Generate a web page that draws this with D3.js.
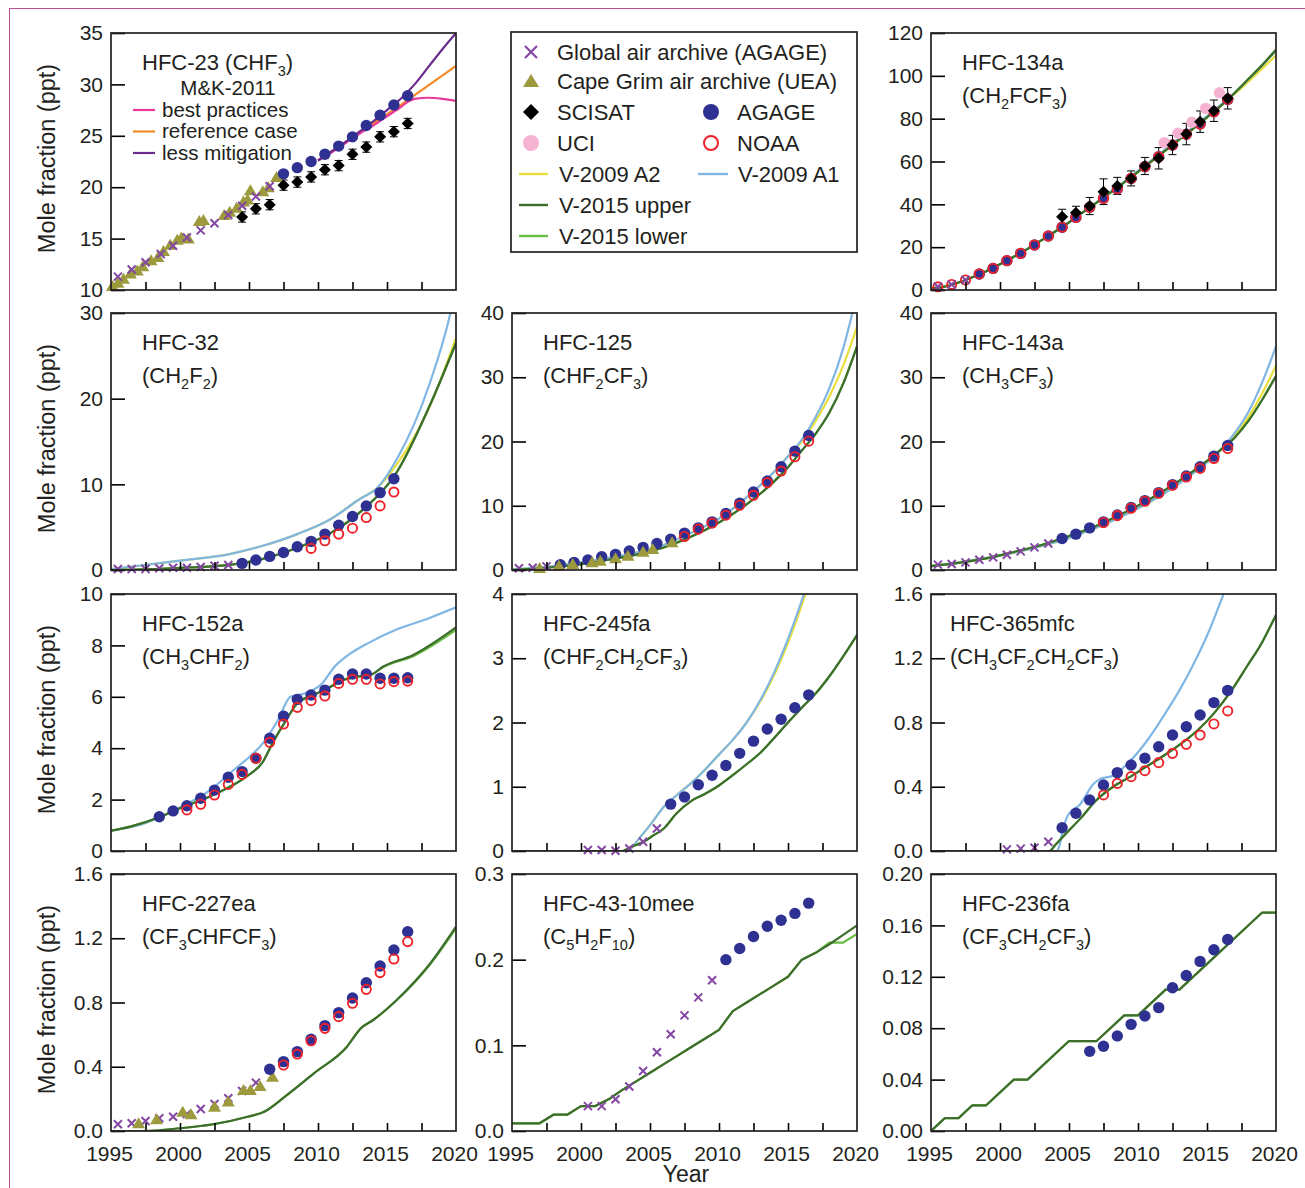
<!DOCTYPE html>
<html><head><meta charset="utf-8">
<script src="https://cdn.jsdelivr.net/npm/d3@7"></script>
<style>
body{margin:0;background:#fff}
svg{display:block}
text{font-family:"Liberation Sans",Arial,sans-serif;fill:#231f20}
</style>
</head><body>
<svg id="c" width="1305" height="1188"></svg>
<script>
// ---------------- DATA ----------------
const xTickLabels = [1995, 2000, 2005, 2010, 2015, 2020];
const xMinorTicks = [1997.5, 2000, 2002.5, 2005, 2007.5, 2010, 2012.5, 2015, 2017.5];

// HFC-23
const hfc23Archive = [[1995.5,11.3],[1996.5,12.0],[1997.5,12.7],[1998.6,13.5],[1999.5,14.3],[2000.5,15.1],[2001.5,15.8],[2002.5,16.5],[2003.5,17.3],[2004.5,18.2],[2005.5,19.1],[2006.5,20.1]];
const hfc23UEA = [[1995.1,10.4],[1995.5,10.7],[1995.9,11.1],[1996.4,11.6],[1996.9,11.9],[1997.3,12.3],[1997.9,12.9],[1998.4,13.2],[1998.8,13.8],[1999.3,14.4],[1999.8,14.9],[2000.1,15.1],[2000.6,15.0],[2001.4,16.7],[2001.7,16.8],[2003.2,17.3],[2003.6,17.6],[2004.1,18.0],[2004.6,18.6],[2004.9,18.8],[2005.1,19.7],[2006.0,19.6],[2006.4,20.0],[2007.0,21.0]];
const hfc23SCISAT = [[2004.5,17.1,0.5],[2005.5,17.9,0.5],[2006.5,18.3,0.5],[2007.5,20.2,0.5],[2008.5,20.5,0.5],[2009.5,21.0,0.5],[2010.5,21.7,0.5],[2011.5,22.1,0.5],[2012.5,23.2,0.5],[2013.5,23.9,0.5],[2014.5,24.9,0.5],[2015.5,25.4,0.5],[2016.5,26.2,0.5]];
const hfc23AGAGE = [[2007.5,21.3],[2008.5,21.9],[2009.5,22.5],[2010.5,23.2],[2011.5,24.0],[2012.5,24.9],[2013.5,26.0],[2014.5,27.0],[2015.5,28.0],[2016.5,28.9]];
const mkBest = [[2010,22.6],[2011,23.4],[2012,24.3],[2013,25.2],[2014,26.0],[2015,26.9],[2016,27.8],[2016.5,28.3],[2017,28.6],[2018,28.7],[2019,28.6],[2020,28.4]];
const mkRef = [[2010,22.6],[2012,24.4],[2014,26.2],[2016,28.0],[2018,29.9],[2020,31.8]];
const mkLess = [[2010,22.6],[2011,23.5],[2012,24.4],[2013,25.4],[2014,26.4],[2015,27.5],[2016,28.6],[2017,30.0],[2018,31.7],[2019,33.4],[2020,35.0]];

// HFC-134a
const hfc134aArchive = [[1995.5,1.5],[1996.5,2.6],[1997.5,4.7]];
const hfc134aAGAGE = [[1998.5,7.5],[1999.5,10.1],[2000.5,13.7],[2001.5,17.1],[2002.5,21.0],[2003.5,25.2],[2004.5,29.3],[2005.5,33.9],[2006.5,38.6],[2007.5,42.8],[2008.5,47.2],[2009.5,52.1],[2010.5,57.6],[2011.5,62.2],[2012.5,67.7],[2013.5,72.7],[2014.5,77.5],[2015.5,83.2],[2016.5,89.0]];
const hfc134aNOAA = [[1995.5,1.5],[1996.5,2.6],[1997.5,4.7],[1998.5,7.5],[1999.5,10.1],[2000.5,13.7],[2001.5,17.1],[2002.5,21.0],[2003.5,25.2],[2004.5,29.3],[2005.5,33.9],[2006.5,38.6],[2007.5,42.8],[2008.5,47.2],[2009.5,52.1],[2010.5,57.6],[2011.5,62.2],[2012.5,67.7],[2013.5,72.7],[2014.5,77.5],[2015.5,83.2],[2016.5,89.0]];
const hfc134aSCISAT = [[2004.5,34.2,3.5],[2005.5,36.1,3],[2006.5,39.2,4],[2007.5,45.9,6],[2008.5,48.6,4],[2009.5,52.1,3.5],[2010.5,57.9,4],[2011.5,61.5,5],[2012.5,67.7,4.5],[2013.5,72.8,5],[2014.5,78.6,5],[2015.5,83.7,5],[2016.5,89.5,5]];
const hfc134aUCI = [[2011.9,68.8],[2012.9,73.2],[2013.9,78.3],[2014.9,84.8],[2015.9,92.1]];
const hfc134aUpper = [[1995,0.8],[1996,1.6],[1997,3.5],[1998,6],[1999,8.8],[2000,12],[2001,15.5],[2002,19.2],[2003,23.2],[2004,27.3],[2005,31.6],[2006,36.2],[2007,40.8],[2008,45.5],[2009,50.2],[2010,55.2],[2011,60.2],[2012,65.2],[2013,70.3],[2014,75.4],[2015,80.6],[2016,86],[2017,92],[2018,98.5],[2019,105],[2020,112.2]];
const hfc134aA1 = [[1995,0.8],[1996,1.6],[1997,3.5],[1998,6],[1999,8.8],[2000,12],[2001,15.5],[2002,19.2],[2003,23.2],[2004,27.3],[2005,31.6],[2006,36.2],[2007,40.9],[2008,45.7],[2009,50.5],[2010,55.6],[2011,60.7],[2012,65.8],[2013,71],[2014,76.1],[2015,81.2],[2016,86.4],[2017,92],[2018,98.4],[2019,104.8],[2020,111.8]];
const hfc134aA2 = [[1995,0.8],[1996,1.6],[1997,3.5],[1998,6],[1999,8.8],[2000,12],[2001,15.5],[2002,19.2],[2003,23.2],[2004,27.3],[2005,31.6],[2006,36.2],[2007,40.8],[2008,45.5],[2009,50.2],[2010,55.2],[2011,60.2],[2012,65.2],[2013,70.3],[2014,75.4],[2015,80.6],[2016,86],[2017,91.5],[2018,97.3],[2019,103.3],[2020,109.6]];

// HFC-32
const hfc32Archive = [[1995.5,0.12],[1996.5,0.12],[1997.5,0.12],[1998.5,0.2],[1999.5,0.27],[2000.5,0.27],[2001.5,0.35],[2002.5,0.5],[2003.5,0.58]];
const hfc32AGAGE = [[2004.5,0.77],[2005.5,1.16],[2006.5,1.59],[2007.5,2.05],[2008.5,2.71],[2009.5,3.34],[2010.5,4.19],[2011.5,5.23],[2012.5,6.24],[2013.5,7.48],[2014.5,9.03],[2015.5,10.66]];
const hfc32NOAA = [[2009.5,2.52],[2010.5,3.41],[2011.5,4.19],[2012.5,4.88],[2013.5,6.12],[2014.5,7.48],[2015.5,9.1]];
const hfc32A1 = [[1995,0.1],[1997,0.5],[2000,1.1],[2003.6,1.86],[2006,2.83],[2008.5,4.19],[2010.9,5.93],[2013,8.26],[2014.3,9.6],[2015.7,12.9],[2018.1,21.8],[2019.6,30],[2020,33]];
const hfc32A2 = [[1995,0.1],[1997,0.5],[2000,1.1],[2003.6,1.86],[2006,2.83],[2008.5,4.19],[2010.9,5.93],[2013,8.26],[2014.3,9.6],[2015.7,12.3],[2018.1,19.1],[2020,27.1]];
const hfc32Upper = [[1995,0],[1998,0.1],[2000,0.25],[2002,0.4],[2003.6,0.6],[2006,1.3],[2008.5,2.6],[2010.9,4.3],[2013.3,7.1],[2015.7,11.4],[2018.1,19.2],[2020,26.5]];

// HFC-125
const hfc125Archive = [[1995.5,0.26],[1996.5,0.36],[1997.5,0.57]];
const hfc125UEA = [[1997.0,0.3],[1998.4,0.67],[1999.4,0.93],[2000.8,1.19],[2001.4,1.45],[2002.5,1.81],[2003.4,2.2],[2004.5,2.84],[2005.2,3.26],[2006.6,4.3]];
const hfc125AGAGE = [[1998.5,0.83],[1999.5,1.19],[2000.5,1.55],[2001.5,2.07],[2002.5,2.43],[2003.5,2.95],[2004.5,3.52],[2005.5,4.13],[2006.5,4.81],[2007.5,5.74],[2008.5,6.56],[2009.5,7.49],[2010.5,8.79],[2011.5,10.39],[2012.5,12.14],[2013.5,13.85],[2014.5,16.07],[2015.5,18.5],[2016.5,20.93]];
const hfc125NOAA = [[2007.5,5.22],[2008.5,6.36],[2009.5,7.29],[2010.5,8.53],[2011.5,10.08],[2012.5,11.63],[2013.5,13.6],[2014.5,15.4],[2015.5,17.63],[2016.5,20.05]];
const hfc125A1 = [[1995,0.1],[1998,0.6],[2000,1.2],[2002,1.9],[2004,2.7],[2006,3.9],[2008,5.8],[2010,8.0],[2012,11.3],[2014,15.3],[2015,17.7],[2016,20.3],[2017,23.8],[2018,28.3],[2019,34.5],[2020,43]];
const hfc125A2 = [[1995,0.1],[1998,0.6],[2000,1.2],[2002,1.9],[2004,2.7],[2006,3.9],[2008,5.8],[2010,8.0],[2012,11.3],[2014,15.3],[2015,17.7],[2016,20.0],[2017,23.2],[2018,27.0],[2019,31.8],[2020,37.9]];
const hfc125Upper = [[1995,0],[2000,0.9],[2002,1.6],[2004,2.4],[2006,3.5],[2008,5.2],[2010,7.4],[2012,10.2],[2014,13.8],[2015,16.0],[2016,18.6],[2017,21.2],[2018,24.5],[2019,29.0],[2020,34.8]];

// HFC-143a
const hfc143aArchive = [[1995.5,0.83],[1996.5,0.93],[1997.5,1.19],[1998.5,1.6],[1999.5,1.96],[2000.5,2.38],[2001.5,2.9],[2002.5,3.52],[2003.5,4.13]];
const hfc143aAGAGE = [[2004.5,4.91],[2005.5,5.58],[2006.5,6.56],[2007.5,7.49],[2008.5,8.57],[2009.5,9.72],[2010.5,10.8],[2011.5,12.04],[2012.5,13.29],[2013.5,14.62],[2014.5,16.07],[2015.5,17.72],[2016.5,19.38]];
const hfc143aNOAA = [[2007.5,7.39],[2008.5,8.47],[2009.5,9.61],[2010.5,10.7],[2011.5,11.94],[2012.5,13.18],[2013.5,14.47],[2014.5,15.81],[2015.5,17.36],[2016.5,18.91]];
const hfc143aUpper = [[1995,0.6],[1997,1.1],[1999,1.8],[2001,2.8],[2003,3.9],[2005,5.3],[2007,6.9],[2009,8.9],[2011,11.2],[2013,13.9],[2015,17.0],[2016,18.7],[2017,20.6],[2018,23.2],[2019,26.5],[2020,30.2]];
const hfc143aA1 = [[1995,0.6],[2001,2.7],[2005,5.0],[2009,8.5],[2013,13.5],[2015,16.8],[2016,18.8],[2017,21.3],[2018,24.6],[2019,29.2],[2020,34.8]];
const hfc143aA2 = [[1995,0.6],[2001,2.7],[2005,5.0],[2009,8.5],[2013,13.5],[2015,16.8],[2016,18.8],[2017,21.0],[2018,23.8],[2019,27.5],[2020,31.8]];

// HFC-152a
const hfc152aAGAGE = [[1998.5,1.33],[1999.5,1.56],[2000.5,1.76],[2001.5,2.05],[2002.5,2.37],[2003.5,2.87],[2004.5,3.09],[2005.5,3.61],[2006.5,4.39],[2007.5,5.25],[2008.5,5.9],[2009.5,6.07],[2010.5,6.26],[2011.5,6.68],[2012.5,6.89],[2013.5,6.89],[2014.5,6.72],[2015.5,6.72],[2016.5,6.74]];
const hfc152aNOAA = [[2000.5,1.6],[2001.5,1.82],[2002.5,2.18],[2003.5,2.59],[2004.5,2.98],[2005.5,3.61],[2006.5,4.23],[2007.5,4.94],[2008.5,5.59],[2009.5,5.85],[2010.5,6.03],[2011.5,6.52],[2012.5,6.68],[2013.5,6.68],[2014.5,6.5],[2015.5,6.59],[2016.5,6.61]];
const hfc152aUpper = [[1995,0.79],[1996.4,0.95],[1998.6,1.33],[2000,1.66],[2002.4,2.18],[2004.8,2.89],[2006,3.47],[2006.7,4.19],[2007.7,5.1],[2008.5,5.75],[2009.7,6.07],[2010.9,6.39],[2011.8,6.65],[2012.8,6.78],[2013.8,6.85],[2014.7,7.17],[2016.9,7.63],[2020,8.7]];
const hfc152aLower = [[1995,0.79],[1996.4,0.95],[1998.6,1.33],[2000,1.66],[2002.4,2.18],[2004.8,2.89],[2006,3.47],[2006.7,4.19],[2007.7,5.1],[2008.5,5.75],[2009.7,6.07],[2010.9,6.39],[2011.8,6.65],[2012.8,6.78],[2013.8,6.85],[2014.7,7.15],[2016.9,7.58],[2020,8.6]];
const hfc152aA1 = [[1995,0.79],[1997,1.0],[2000,1.7],[2002,2.3],[2004,3.2],[2005,3.65],[2006,4.19],[2007.1,5.1],[2008,6.0],[2009.1,6.14],[2010.3,6.52],[2011.2,7.17],[2012.2,7.63],[2013.6,8.08],[2015.6,8.6],[2018,9.05],[2020,9.48]];

// HFC-245fa
const hfc245faArchive = [[2000.5,0.016],[2001.5,0.016],[2002.5,0.005],[2003.5,0.04],[2004.5,0.145],[2005.5,0.35]];
const hfc245faAGAGE = [[2006.5,0.73],[2007.5,0.84],[2008.5,1.03],[2009.5,1.18],[2010.5,1.33],[2011.5,1.52],[2012.5,1.71],[2013.5,1.9],[2014.5,2.05],[2015.5,2.23],[2016.5,2.43]];
const hfc245faUpper = [[1995,0],[2003,0],[2003.5,0.05],[2004.5,0.14],[2005.3,0.25],[2006,0.35],[2006.9,0.58],[2008,0.78],[2009,0.89],[2010,1.02],[2011,1.18],[2012,1.35],[2013,1.53],[2014,1.76],[2015,2.0],[2016,2.23],[2017,2.45],[2018,2.72],[2019,3.03],[2020,3.36]];
const hfc245faA1 = [[1995,0],[2003.3,0],[2004.3,0.22],[2005.1,0.43],[2006,0.69],[2007,0.88],[2008,1.06],[2009,1.27],[2010,1.5],[2011,1.73],[2012,2.0],[2013,2.35],[2014,2.78],[2015,3.3],[2016,3.9],[2017,4.6]];
const hfc245faA2 = [[1995,0],[2003.3,0],[2004.3,0.22],[2005.1,0.43],[2006,0.69],[2007,0.88],[2008,1.06],[2009,1.27],[2010,1.5],[2011,1.73],[2012,2.0],[2013,2.33],[2014,2.74],[2015,3.24],[2016,3.83],[2017,4.5]];

// HFC-365mfc
const hfc365Archive = [[2000.5,0.01],[2001.5,0.015],[2002.5,0.02],[2003.5,0.058]];
const hfc365AGAGE = [[2004.5,0.145],[2005.5,0.235],[2006.5,0.318],[2007.5,0.411],[2008.5,0.488],[2009.5,0.535],[2010.5,0.577],[2011.5,0.649],[2012.5,0.722],[2013.5,0.774],[2014.5,0.847],[2015.5,0.924],[2016.5,1.0]];
const hfc365NOAA = [[2007.5,0.349],[2008.5,0.421],[2009.5,0.463],[2010.5,0.5],[2011.5,0.55],[2012.5,0.608],[2013.5,0.664],[2014.5,0.722],[2015.5,0.791],[2016.5,0.872]];
const hfc365Upper = [[1995,0],[2003.6,0],[2004,0.037],[2004.8,0.11],[2005.8,0.2],[2007,0.318],[2008.2,0.4],[2009.4,0.46],[2010.6,0.525],[2011.8,0.59],[2013,0.66],[2014.3,0.75],[2015.5,0.857],[2016.7,0.99],[2017.9,1.15],[2019,1.3],[2020,1.47]];
const hfc365A1 = [[1995,0],[2004.1,0],[2004.3,0.03],[2004.5,0.11],[2004.9,0.22],[2005.8,0.29],[2006.8,0.42],[2007.2,0.446],[2008.2,0.47],[2009.2,0.54],[2010.6,0.68],[2012,0.86],[2013,1.0],[2014,1.16],[2015,1.34],[2016.2,1.6],[2017,1.78]];

// HFC-227ea
const hfc227Archive = [[1995.5,0.042],[1996.5,0.048],[1997.5,0.062],[1998.5,0.079],[1999.5,0.089],[2000.5,0.106],[2001.5,0.137],[2002.5,0.168],[2003.5,0.204],[2004.5,0.249],[2005.5,0.301]];
const hfc227UEA = [[1997.0,0.048],[1998.3,0.073],[2000.2,0.12],[2000.8,0.104],[2002.5,0.151],[2003.5,0.183],[2004.6,0.255],[2005.1,0.255],[2005.8,0.28],[2006.7,0.338]];
const hfc227AGAGE = [[2006.5,0.384],[2007.5,0.432],[2008.5,0.494],[2009.5,0.571],[2010.5,0.656],[2011.5,0.737],[2012.5,0.828],[2013.5,0.923],[2014.5,1.027],[2015.5,1.127],[2016.5,1.241]];
const hfc227NOAA = [[2007.5,0.411],[2008.5,0.479],[2009.5,0.562],[2010.5,0.639],[2011.5,0.712],[2012.5,0.795],[2013.5,0.882],[2014.5,0.986],[2015.5,1.071],[2016.5,1.179]];
const hfc227Upper = [[1995,0],[1997.5,0],[2000,0.017],[2002.4,0.042],[2004.9,0.089],[2006.1,0.12],[2007.6,0.214],[2009.7,0.359],[2012.1,0.525],[2013.1,0.639],[2014,0.691],[2015.7,0.816],[2018.1,1.04],[2020,1.272]];
const hfc227Lower = [[1995,0],[1997.5,0],[2000,0.017],[2002.4,0.042],[2004.9,0.089],[2006.1,0.12],[2007.6,0.214],[2009.7,0.359],[2012.1,0.525],[2013.1,0.639],[2014,0.691],[2015.7,0.814],[2018.1,1.035],[2020,1.262]];

// HFC-43-10mee
const hfc4310Archive = [[2000.5,0.029],[2001.5,0.029],[2002.5,0.037],[2003.5,0.052],[2004.5,0.070],[2005.5,0.092],[2006.5,0.113],[2007.5,0.135],[2008.5,0.156],[2009.5,0.176]];
const hfc4310AGAGE = [[2010.5,0.2],[2011.5,0.213],[2012.5,0.227],[2013.5,0.239],[2014.5,0.246],[2015.5,0.254],[2016.5,0.266]];
const hfc4310Upper = [[1995,0.009],[1997,0.009],[1998,0.019],[1999,0.019],[2000,0.029],[2001,0.029],[2002,0.037],[2003,0.048],[2004,0.058],[2005,0.068],[2006,0.078],[2007,0.088],[2008,0.098],[2009,0.108],[2010,0.118],[2011,0.14],[2012,0.15],[2013,0.16],[2014,0.17],[2015,0.18],[2016,0.2],[2017,0.208],[2018,0.218],[2019,0.229],[2020,0.24]];
const hfc4310Lower = [[1995,0.009],[1997,0.009],[1998,0.019],[1999,0.019],[2000,0.029],[2001,0.029],[2002,0.037],[2003,0.048],[2004,0.058],[2005,0.068],[2006,0.078],[2007,0.088],[2008,0.098],[2009,0.108],[2010,0.118],[2011,0.14],[2012,0.15],[2013,0.16],[2014,0.17],[2015,0.18],[2016,0.2],[2017,0.208],[2018,0.22],[2019,0.22],[2020,0.23]];

// HFC-236fa
const hfc236AGAGE = [[2006.5,0.062],[2007.5,0.066],[2008.5,0.074],[2009.5,0.083],[2010.5,0.0895],[2011.5,0.096],[2012.5,0.1115],[2013.5,0.121],[2014.5,0.132],[2015.5,0.141],[2016.5,0.149]];
const hfc236Upper = [[1995,0],[1996,0.01],[1997,0.01],[1998,0.02],[1999,0.02],[2001,0.04],[2002,0.04],[2005,0.07],[2007,0.07],[2009,0.09],[2010,0.09],[2012,0.11],[2013,0.11],[2019,0.17],[2020,0.17]];

// ---------------- LAYOUT / STYLE ----------------
const colLeft = [111, 512, 931], rowTop = [33, 313, 594, 874], PW = 345, PH = 257;
const C = {cross:'#8447a3', tri:'#9c9a3c', dia:'#000000', agage:'#2e3192', uci:'#f5b3d1', noaa:'#ee2228',
  a2:'#e9de3c', a1:'#7fb6e4', up:'#3e6e2d', lo:'#6cbd45', best:'#e9399b', ref:'#f58a2a', less:'#6c2c8e'};
const FS = 21;
const svg = d3.select('#c');

// frame lines of the page
svg.append('line').attr('x1',9).attr('x2',1305).attr('y1',8.5).attr('y2',8.5).attr('stroke','#b5528f').attr('stroke-width',1);
svg.append('line').attr('x1',9.5).attr('x2',9.5).attr('y1',8).attr('y2',1188).attr('stroke','#b5528f').attr('stroke-width',1);

function richText(sel, str, fs) {
  const re = /_(\{[^}]*\}|.)/g;
  let last = 0, m, inSub = false;
  const segs = [];
  while ((m = re.exec(str)) !== null) {
    if (m.index > last) segs.push({t: str.slice(last, m.index), sub: false});
    let s = m[1]; if (s[0] === '{') s = s.slice(1, -1);
    segs.push({t: s, sub: true});
    last = re.lastIndex;
  }
  if (last < str.length) segs.push({t: str.slice(last), sub: false});
  const sh = Math.round(fs * 0.26);
  segs.forEach(sg => {
    const ts = sel.append('tspan').text(sg.t);
    if (sg.sub && !inSub) { ts.attr('dy', sh).attr('font-size', fs * 0.66); inSub = true; }
    else if (sg.sub) { ts.attr('font-size', fs * 0.66); }
    else if (!sg.sub && inSub) { ts.attr('dy', -sh); inSub = false; }
  });
}

const marker = {
  cross: (g, px, py) => g.append('path').attr('d', `M${px-4},${py-4}L${px+4},${py+4}M${px-4},${py+4}L${px+4},${py-4}`).attr('stroke', C.cross).attr('stroke-width', 2).attr('fill','none'),
  tri: (g, px, py) => g.append('path').attr('d', `M${px},${py-6}L${px+6.5},${py+5}L${px-6.5},${py+5}Z`).attr('fill', C.tri),
  dia: (g, px, py) => g.append('path').attr('d', `M${px},${py-6}L${px+6},${py}L${px},${py+6}L${px-6},${py}Z`).attr('fill', C.dia),
  agage: (g, px, py) => g.append('circle').attr('cx', px).attr('cy', py).attr('r', 5.7).attr('fill', C.agage),
  uci: (g, px, py) => g.append('circle').attr('cx', px).attr('cy', py).attr('r', 5.7).attr('fill', C.uci),
  noaa: (g, px, py) => g.append('circle').attr('cx', px).attr('cy', py).attr('r', 4.6).attr('fill', 'none').attr('stroke', C.noaa).attr('stroke-width', 1.9)
};

function panel(cfg, idx) {
  const x0 = colLeft[cfg.col], y0 = rowTop[cfg.row];
  const x = d3.scaleLinear().domain([1995, 2020]).range([x0, x0 + PW]);
  const y = d3.scaleLinear().domain(cfg.yDomain).range([y0 + PH, y0]);
  const g = svg.append('g');
  const cid = 'clip' + idx;
  svg.append('clipPath').attr('id', cid).append('rect').attr('x', x0).attr('y', y0).attr('width', PW).attr('height', PH);
  const lg = g.append('g').attr('clip-path', `url(#${cid})`);
  (cfg.lines || []).forEach(l => {
    lg.append('path').datum(l.data)
      .attr('d', d3.line().x(d => x(d[0])).y(d => y(d[1])).curve(l.linear ? d3.curveLinear : d3.curveMonotoneX))
      .attr('fill', 'none').attr('stroke', l.color).attr('stroke-width', 2.2).attr('stroke-linejoin','round');
  });
  if (cfg.err) {
    cfg.err.forEach(d => {
      const px = x(d[0]);
      lg.append('path').attr('d', `M${px},${y(d[1]-d[2])}V${y(d[1]+d[2])}M${px-4},${y(d[1]-d[2])}H${px+4}M${px-4},${y(d[1]+d[2])}H${px+4}`)
        .attr('stroke', '#000').attr('stroke-width', 1).attr('fill', 'none');
    });
  }
  const mg = g.append('g');
  (cfg.pts || []).forEach(p => {
    p.data.forEach(d => marker[p.type](mg, x(d[0]), y(d[1])));
  });
  g.append('g').attr('transform', `translate(0,${y0 + PH})`)
    .call(d3.axisBottom(x).tickValues(xMinorTicks).tickSize(-8).tickFormat(''))
    .call(a => { a.select('.domain').remove(); a.selectAll('line').attr('stroke', '#000').attr('stroke-width', 1.6); });
  const ya = g.append('g').attr('transform', `translate(${x0},0)`)
    .call(d3.axisLeft(y).tickValues(cfg.yTicks).tickSize(-14).tickPadding(8).tickFormat(d3.format(cfg.fmt)));
  ya.select('.domain').remove();
  ya.selectAll('line').attr('stroke', '#000').attr('stroke-width', 1.6);
  ya.selectAll('text').attr('font-size', FS).attr('font-family', '"Liberation Sans",Arial,sans-serif').attr('fill', '#231f20');
  if (cfg.row === 3) {
    const xa = g.append('g').attr('transform', `translate(0,${y0 + PH})`)
      .call(d3.axisBottom(x).tickValues(xTickLabels).tickSize(0).tickPadding(15).tickFormat(d3.format('d')));
    xa.select('.domain').remove();
    xa.selectAll('text').attr('font-size', FS).attr('font-family', '"Liberation Sans",Arial,sans-serif').attr('fill', '#231f20').attr('dx', -2);
  }
  g.append('rect').attr('x', x0).attr('y', y0).attr('width', PW).attr('height', PH)
    .attr('fill', 'none').attr('stroke', '#231f20').attr('stroke-width', 1.7);
  const tx = x0 + (cfg.tdx || 31);
  richText(g.append('text').attr('x', tx).attr('y', y0 + 37).attr('font-size', 22), cfg.title[0], 22);
  if (cfg.title[1]) richText(g.append('text').attr('x', tx).attr('y', y0 + 70).attr('font-size', 22), cfg.title[1], 22);
  if (cfg.col === 0) {
    g.append('text').attr('transform', `translate(55,${y0 + PH / 2 - 3}) rotate(-90)`)
      .attr('text-anchor', 'middle').attr('font-size', 23.5).text('Mole fraction (ppt)');
  }
}

const L = (data, color, linear) => ({data, color, linear});
const P = (type, data) => ({type, data});

const panels = [
  {col:0,row:0,yDomain:[10,35],yTicks:[10,15,20,25,30,35],fmt:'d',title:['HFC-23 (CHF_3)'],
   lines:[L(mkRef,C.ref),L(mkBest,C.best),L(mkLess,C.less)],
   err:hfc23SCISAT,
   pts:[P('tri',hfc23UEA),P('cross',hfc23Archive),P('dia',hfc23SCISAT),P('agage',hfc23AGAGE)]},
  {col:2,row:0,yDomain:[0,120],yTicks:[0,20,40,60,80,100,120],fmt:'d',title:['HFC-134a','(CH_2FCF_3)'],
   lines:[L(hfc134aA2,C.a2),L(hfc134aA1,C.a1),L(hfc134aUpper,C.lo),L(hfc134aUpper,C.up)],
   pts:[P('agage',hfc134aAGAGE),P('noaa',hfc134aNOAA),P('cross',hfc134aArchive),P('uci',hfc134aUCI),P('dia',hfc134aSCISAT)],
   err:hfc134aSCISAT},
  {col:0,row:1,yDomain:[0,30],yTicks:[0,10,20,30],fmt:'d',title:['HFC-32','(CH_2F_2)'],
   lines:[L(hfc32A2,C.a2),L(hfc32A1,C.a1),L(hfc32Upper,C.lo),L(hfc32Upper,C.up)],
   pts:[P('cross',hfc32Archive),P('agage',hfc32AGAGE),P('noaa',hfc32NOAA)]},
  {col:1,row:1,yDomain:[0,40],yTicks:[0,10,20,30,40],fmt:'d',title:['HFC-125','(CHF_2CF_3)'],
   lines:[L(hfc125A2,C.a2),L(hfc125A1,C.a1),L(hfc125Upper,C.lo),L(hfc125Upper,C.up)],
   pts:[P('cross',hfc125Archive),P('agage',hfc125AGAGE),P('tri',hfc125UEA),P('noaa',hfc125NOAA)]},
  {col:2,row:1,yDomain:[0,40],yTicks:[0,10,20,30,40],fmt:'d',title:['HFC-143a','(CH_3CF_3)'],
   lines:[L(hfc143aA2,C.a2),L(hfc143aA1,C.a1),L(hfc143aUpper,C.lo),L(hfc143aUpper,C.up)],
   pts:[P('cross',hfc143aArchive),P('agage',hfc143aAGAGE),P('noaa',hfc143aNOAA)]},
  {col:0,row:2,yDomain:[0,10],yTicks:[0,2,4,6,8,10],fmt:'d',title:['HFC-152a','(CH_3CHF_2)'],
   lines:[L(hfc152aA1,C.a1),L(hfc152aLower,C.lo),L(hfc152aUpper,C.up)],
   pts:[P('agage',hfc152aAGAGE),P('noaa',hfc152aNOAA)]},
  {col:1,row:2,yDomain:[0,4],yTicks:[0,1,2,3,4],fmt:'d',title:['HFC-245fa','(CHF_2CH_2CF_3)'],
   lines:[L(hfc245faA2,C.a2),L(hfc245faA1,C.a1),L(hfc245faUpper,C.lo),L(hfc245faUpper,C.up)],
   pts:[P('cross',hfc245faArchive),P('agage',hfc245faAGAGE)]},
  {col:2,row:2,yDomain:[0,1.6],yTicks:[0,0.4,0.8,1.2,1.6],fmt:'.1f',title:['HFC-365mfc','(CH_3CF_2CH_2CF_3)'],tdx:19,
   lines:[L(hfc365A1,C.a1),L(hfc365Upper,C.lo),L(hfc365Upper,C.up)],
   pts:[P('cross',hfc365Archive),P('agage',hfc365AGAGE),P('noaa',hfc365NOAA)]},
  {col:0,row:3,yDomain:[0,1.6],yTicks:[0,0.4,0.8,1.2,1.6],fmt:'.1f',title:['HFC-227ea','(CF_3CHFCF_3)'],
   lines:[L(hfc227Lower,C.lo),L(hfc227Upper,C.up)],
   pts:[P('cross',hfc227Archive),P('tri',hfc227UEA),P('agage',hfc227AGAGE),P('noaa',hfc227NOAA)]},
  {col:1,row:3,yDomain:[0,0.3],yTicks:[0,0.1,0.2,0.3],fmt:'.1f',title:['HFC-43-10mee','(C_5H_2F_{10})'],
   lines:[L(hfc4310Lower,C.lo,true),L(hfc4310Upper,C.up,true)],
   pts:[P('cross',hfc4310Archive),P('agage',hfc4310AGAGE)]},
  {col:2,row:3,yDomain:[0,0.2],yTicks:[0,0.04,0.08,0.12,0.16,0.2],fmt:'.2f',title:['HFC-236fa','(CF_3CH_2CF_3)'],
   lines:[L(hfc236Upper,C.lo,true),L(hfc236Upper,C.up,true)],
   pts:[P('agage',hfc236AGAGE)]}
];
panels.forEach((p, i) => panel(p, i));

// M&K-2011 legend inside HFC-23 panel
const mk = svg.append('g');
mk.append('text').attr('x', 228).attr('y', 95).attr('text-anchor', 'middle').attr('font-size', 20.5).text('M&K-2011');
[['best practices', C.best, 110], ['reference case', C.ref, 131.5], ['less mitigation', C.less, 153]].forEach(d => {
  mk.append('line').attr('x1', 133).attr('x2', 155).attr('y1', d[2]).attr('y2', d[2]).attr('stroke', d[1]).attr('stroke-width', 2.2);
  mk.append('text').attr('x', 162).attr('y', d[2] + 6.5).attr('font-size', 20.5).text(d[0]);
});

// Main legend
const lgd = svg.append('g');
lgd.append('rect').attr('x', 511).attr('y', 32).attr('width', 346).attr('height', 220).attr('fill', '#fff').attr('stroke', '#231f20').attr('stroke-width', 1.7);
const legendSym = [
  ['cross', 531, 52, 'Global air archive (AGAGE)', 557],
  ['tri', 531, 81, 'Cape Grim air archive (UEA)', 557],
  ['dia', 531, 112, 'SCISAT', 557],
  ['agage', 711, 112, 'AGAGE', 737],
  ['uci', 531, 143, 'UCI', 557],
  ['noaa', 711, 143, 'NOAA', 737]
];
legendSym.forEach(d => {
  if (d[0] === 'cross') lgd.append('path').attr('d', `M${d[1]-6},${d[2]-6}L${d[1]+6},${d[2]+6}M${d[1]-6},${d[2]+6}L${d[1]+6},${d[2]-6}`).attr('stroke', C.cross).attr('stroke-width', 2.2);
  else if (d[0] === 'tri') lgd.append('path').attr('d', `M${d[1]},${d[2]-7}L${d[1]+8},${d[2]+6}L${d[1]-8},${d[2]+6}Z`).attr('fill', C.tri);
  else if (d[0] === 'dia') lgd.append('path').attr('d', `M${d[1]},${d[2]-8}L${d[1]+8},${d[2]}L${d[1]},${d[2]+8}L${d[1]-8},${d[2]}Z`).attr('fill', '#000');
  else if (d[0] === 'agage') lgd.append('circle').attr('cx', d[1]).attr('cy', d[2]).attr('r', 8).attr('fill', C.agage);
  else if (d[0] === 'uci') lgd.append('circle').attr('cx', d[1]).attr('cy', d[2]).attr('r', 8).attr('fill', C.uci);
  else if (d[0] === 'noaa') lgd.append('circle').attr('cx', d[1]).attr('cy', d[2]).attr('r', 7).attr('fill', 'none').attr('stroke', C.noaa).attr('stroke-width', 2);
  lgd.append('text').attr('x', d[4]).attr('y', d[2] + 8).attr('font-size', 22).text(d[3]);
});
const legendLines = [
  [C.a2, 519, 548, 174, 'V-2009 A2', 559],
  [C.a1, 698, 728, 174, 'V-2009 A1', 738],
  [C.up, 519, 548, 205, 'V-2015 upper', 559],
  [C.lo, 519, 548, 236, 'V-2015 lower', 559]
];
legendLines.forEach(d => {
  lgd.append('line').attr('x1', d[1]).attr('x2', d[2]).attr('y1', d[3]).attr('y2', d[3]).attr('stroke', d[0]).attr('stroke-width', 2.4);
  lgd.append('text').attr('x', d[5]).attr('y', d[3] + 8).attr('font-size', 22).text(d[4]);
});

svg.append('text').attr('x', 686).attr('y', 1182).attr('text-anchor', 'middle').attr('font-size', 23).text('Year');
</script>
</body></html>
